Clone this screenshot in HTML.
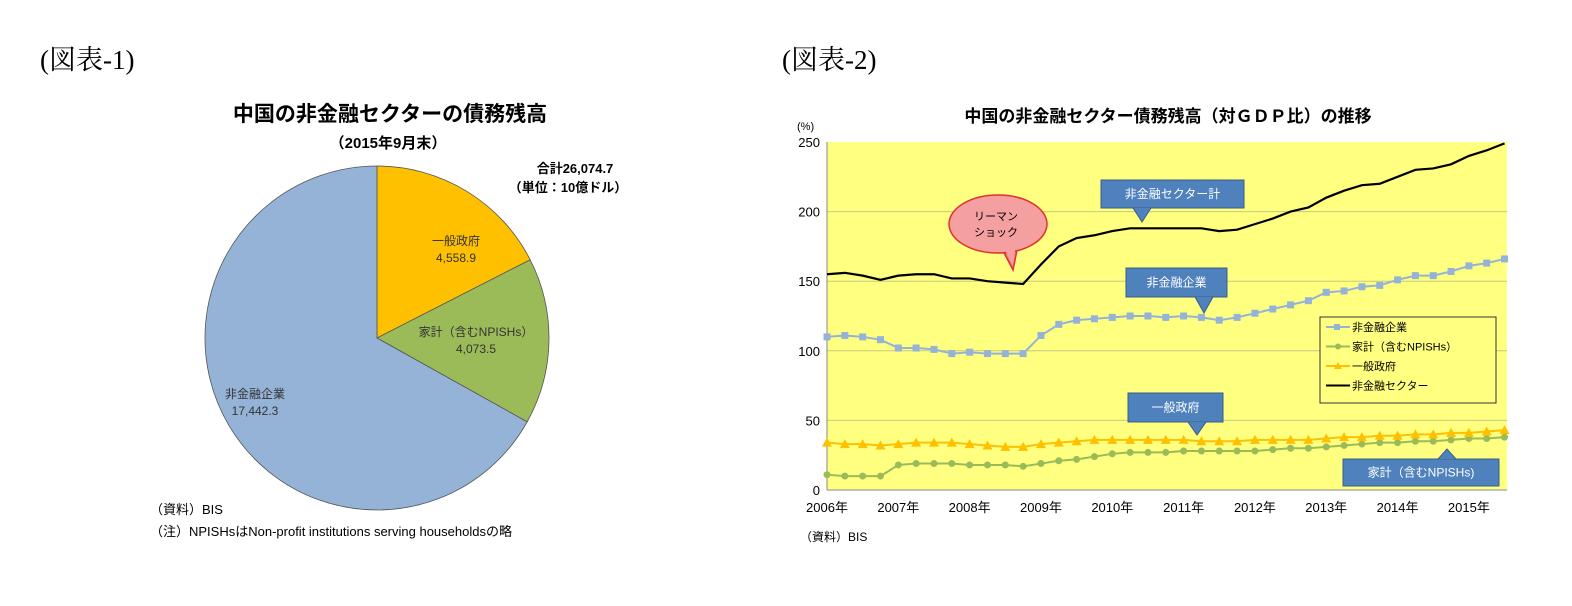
<!DOCTYPE html>
<html><head><meta charset="utf-8">
<style>
body{margin:0;width:1572px;height:606px;background:#fff;overflow:hidden;font-family:"Liberation Sans","Noto Sans CJK JP",sans-serif;}
svg text{font-family:"Liberation Sans","Noto Sans CJK JP",sans-serif;}
.h{font-family:"Liberation Serif","Noto Serif CJK SC",serif;font-size:27px;position:absolute;}
</style></head><body>
<div class="h" style="left:40px;top:38px">(図表-1)</div>
<div class="h" style="left:782px;top:38px">(図表-2)</div>
<svg id="pie" width="1572" height="606" style="position:absolute;left:0;top:0">
<text x="390" y="121" font-size="21" font-weight="bold" text-anchor="middle">中国の非金融セクターの債務残高</text>
<text x="388" y="148" font-size="15" font-weight="bold" text-anchor="middle">（2015年9月末）</text>
<text x="575" y="173" font-size="13" font-weight="bold" text-anchor="middle">合計26,074.7</text>
<text x="568" y="192" font-size="13" font-weight="bold" text-anchor="middle">（単位：10億ドル）</text>
<g id="pieg"></g>
<text x="150" y="514" font-size="13">（資料）BIS</text>
<text x="150" y="536" font-size="13">（注）NPISHsはNon-profit institutions serving householdsの略</text>

<text x="1168" y="122" font-size="17" font-weight="bold" text-anchor="middle">中国の非金融セクター債務残高（対ＧＤＰ比）の推移</text>
<text x="797" y="130" font-size="11">(%)</text>
<rect x="827" y="142" width="680" height="348" fill="#FFFF80"/>
<g id="lineg"></g>
<text x="800" y="541" font-size="12">（資料）BIS</text>
</svg>
<script>
const NS="http://www.w3.org/2000/svg";
function mk(t,a,p){const e=document.createElementNS(NS,t);for(const k in a)e.setAttribute(k,a[k]);p.appendChild(e);return e;}
// Pie data
const pieLabels=["一般政府","家計（含むNPISHs）","非金融企業"];
const pieValues=[4558.9,4073.5,17442.3];
const pieColors=["#FFC000","#9BBB59","#95B3D7"];
const pg=document.getElementById('pieg');
const cx=377,cy=338,R=172;
let tot=pieValues.reduce((a,b)=>a+b,0),ang=0;
const labelPos=[[456,245],[476,336],[255,398]];
pieValues.forEach((v,i)=>{
  const a0=ang,a1=ang+v/tot*2*Math.PI;ang=a1;
  const x0=cx+R*Math.sin(a0),y0=cy-R*Math.cos(a0),x1=cx+R*Math.sin(a1),y1=cy-R*Math.cos(a1);
  const p=mk('path',{d:`M${cx},${cy}L${x0},${y0}A${R},${R} 0 ${a1-a0>Math.PI?1:0} 1 ${x1},${y1}Z`,fill:pieColors[i],stroke:'#555','stroke-width':0.8},pg);
  
  
  const t=mk('text',{x:labelPos[i][0],y:labelPos[i][1],'font-size':12,'text-anchor':'middle',fill:'#333'},pg);
  t.textContent=pieLabels[i];
  
  
  const t2=mk('text',{x:labelPos[i][0],y:labelPos[i][1]+17,'font-size':12,'text-anchor':'middle',fill:'#333'},pg);
  t2.textContent=v.toLocaleString('en-US',{minimumFractionDigits:1});
  
  
});
// Line data (2006Q1..2015Q3)
const yearLabels=["2006年","2007年","2008年","2009年","2010年","2011年","2012年","2013年","2014年","2015年"];
const yTicks=[0,50,100,150,200,250];
const corp=[110,111,110,108,102,102,101,98,99,98,98,98,111,119,122,123,124,125,125,124,125,124,122,124,127,130,133,136,142,143,146,147,151,154,154,157,161,163,166];
const total=[155,156,154,151,154,155,155,152,152,150,149,148,162,175,181,183,186,188,188,188,188,188,186,187,191,195,200,203,210,215,219,220,225,230,231,234,240,244,249];
const gov=[34,33,33,32,33,34,34,34,33,32,31,31,33,34,35,36,36,36,36,36,36,35,35,35,36,36,36,36,37,38,38,39,39,40,40,41,41,42,43];
const hh=[11,10,10,10,18,19,19,19,18,18,18,17,19,21,22,24,26,27,27,27,28,28,28,28,28,29,30,30,31,32,33,34,34,35,35,36,37,37,38];
const lg=document.getElementById('lineg');
const X=i=>827+i*17.83, Y=v=>490-v*1.392;
yTicks.forEach(v=>{
  if(v>0&&v<250){const l=mk('line',{x1:827,x2:1507,y1:Y(v),y2:Y(v),stroke:'#C8C880','stroke-width':1},lg);}
  const t=mk('text',{x:820,y:Y(v)+5,'font-size':13,'text-anchor':'end'},lg);t.textContent=v;
  
  
});
mk('line',{x1:827,x2:1507,y1:490,y2:490,stroke:'#888'},lg);
mk('line',{x1:827,x2:827,y1:142,y2:490,stroke:'#888'},lg);
yearLabels.forEach((s,i)=>{
  const t=mk('text',{x:X(i*4),y:512,'font-size':13,'text-anchor':'middle'},lg);t.textContent=s;
  
  
});
function series(d,color,w,marker,name){
  const p=mk('polyline',{points:d.map((v,i)=>X(i)+','+Y(v)).join(' '),fill:'none',stroke:color,'stroke-width':w},lg);
  
  
  if(!marker)return;
  d.forEach((v,i)=>{
    let m;
    if(marker==='sq')m=mk('rect',{x:X(i)-3.5,y:Y(v)-3.5,width:7,height:7,fill:color},lg);
    else if(marker==='ci')m=mk('circle',{cx:X(i),cy:Y(v),r:3.5,fill:color},lg);
    else m=mk('polygon',{points:`${X(i)},${Y(v)-5} ${X(i)-5},${Y(v)+4} ${X(i)+5},${Y(v)+4}`,fill:color},lg);
    
    
  });
}
series(total,'#000',2.2,null,'total');
series(corp,'#95B3D7',2,'sq','corporate');
series(hh,'#9BBB59',2,'ci','household');
series(gov,'#FFC000',2,'tri','government');
// callouts
function callout(x,y,w,h,tx,ty,text,name){
  const g=mk('g',{},lg);
  const edge=ty>y?y+h:y;
  mk('polygon',{points:`${tx-9},${edge} ${tx+9},${edge} ${tx},${ty}`,fill:'#4F81BD',stroke:'#385D8A'},g);
  mk('rect',{x:x,y:y,width:w,height:h,fill:'#4F81BD',stroke:'#385D8A'},g);
  mk('polygon',{points:`${tx-8},${edge} ${tx+8},${edge} ${tx},${ty+(ty>y?-1:1)}`,fill:'#4F81BD'},g);
  const t=mk('text',{x:x+w/2,y:y+h/2+4,'font-size':12,'text-anchor':'middle',fill:'#fff'},g);t.textContent=text;
  
  
}
callout(1101,180,143,28,1142,222,'非金融セクター計','callout-total');
callout(1126,268,101,29,1204,313,'非金融企業','callout-corporate');
callout(1128,393,95,29,1197,435,'一般政府','callout-government');
callout(1343,459,156,27,1447,449,'家計（含むNPISHs)','callout-household');
// Lehman bubble
const b=mk('g',{},lg);
mk('polygon',{points:'1000,245 1018,245 1013,270',fill:'#F08080',stroke:'#E03030','stroke-width':1.5},b);
mk('ellipse',{cx:998,cy:224,rx:49,ry:29,fill:'#F4A0A0',stroke:'#E03030','stroke-width':1.5},b);
mk('polygon',{points:'1002,244 1016,244 1013,266',fill:'#F4A0A0'},b);
let t1=mk('text',{x:996,y:220,'font-size':11,'text-anchor':'middle'},b);t1.textContent='リーマン';
let t2=mk('text',{x:996,y:236,'font-size':11,'text-anchor':'middle'},b);t2.textContent='ショック';


// legend
const L=mk('g',{},lg);
mk('rect',{x:1320,y:317,width:176,height:86,fill:'#FFFF80',stroke:'#333'},L);
const legNames=['非金融企業','家計（含むNPISHs）','一般政府','非金融セクター'];
const legCols=['#95B3D7','#9BBB59','#FFC000','#000'];
legNames.forEach((n,i)=>{
  const yy=327+i*19.5;
  mk('line',{x1:1326,x2:1350,y1:yy,y2:yy,stroke:legCols[i],'stroke-width':2},L);
  if(i===0)mk('rect',{x:1334,y:yy-3,width:6,height:6,fill:legCols[i]},L);
  if(i===1)mk('circle',{cx:1338,cy:yy,r:3,fill:legCols[i]},L);
  if(i===2)mk('polygon',{points:`1338,${yy-4} 1334,${yy+3} 1342,${yy+3}`,fill:legCols[i]},L);
  const t=mk('text',{x:1352,y:yy+4,'font-size':11},L);t.textContent=n;
});


</script>
</body></html>
